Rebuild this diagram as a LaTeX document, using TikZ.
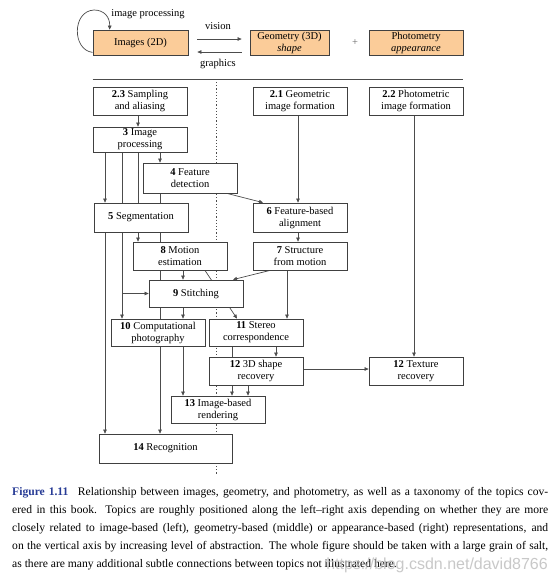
\documentclass[tikz,border=0pt]{standalone}
\usepackage{fontspec}
\setmainfont{Liberation Serif}
\newfontfamily\wmfont{Liberation Sans}
\usetikzlibrary{arrows.meta,calc}
\definecolor{peach}{RGB}{251,204,153}
\definecolor{figblue}{RGB}{40,60,150}
\pgfdeclarelayer{background}
\pgfsetlayers{background,main}
\begin{document}
\begin{tikzpicture}[x=1pt,y=-1pt,
  box/.style={draw=black!75, line width=0.8pt, fill=white, inner sep=0pt, align=center,
    font=\fontsize{10.5}{12}\selectfont, minimum width=94pt, minimum height=28pt},
  cbox/.style={box, fill=peach},
  arr/.style={draw=black!70, line width=0.7pt, -{Triangle[length=4pt,width=3.6pt]}},
  ln/.style={draw=black!70, line width=0.7pt},
  lbl/.style={font=\fontsize{10.5}{12}\selectfont, inner sep=0pt}
]
\useasboundingbox (0,0) rectangle (554,582);
% top row
\node[cbox, minimum width=95pt, minimum height=25pt] (img) at (140.5,42.5) {Images (2D)};
\node[cbox, minimum width=79pt, minimum height=25pt] (geo) at (289.5,42.5) {Geometry (3D)\\\textit{shape}};
\node[cbox, minimum height=25pt] (pho) at (416,42.5) {Photometry\\\textit{appearance}};
\node[lbl, text=black!60] (plus) at (355,43) {+};
\node[lbl] (vis) at (218,26) {vision};
\node[lbl] (gra) at (218,64) {graphics};
\node[lbl] (ip) at (148,14) {image processing};
% boxes
\node[box] (b23) at (140,101) {\textbf{2.3} Sampling\\and aliasing};
\node[box] (b21) at (300,101) {\textbf{2.1} Geometric\\image formation};
\node[box] (b22) at (416,101) {\textbf{2.2} Photometric\\image formation};
\node[box, minimum height=25pt] (b3) at (140,139.5) {\textbf{3} Image\\processing};
\node[box, minimum height=30pt] (b4) at (190,178) {\textbf{4} Feature\\detection};
\node[box, minimum height=29pt] (b5) at (141,217.5) {\textbf{5} Segmentation};
\node[box, minimum height=29pt] (b6) at (300,217.5) {\textbf{6} Feature-based\\alignment};
\node[box] (b8) at (180,256) {\textbf{8} Motion\\estimation};
\node[box] (b7) at (300,256) {\textbf{7} Structure\\from motion};
\node[box, minimum height=27pt] (b9) at (196,293.5) {\textbf{9} Stitching};
\node[box, minimum height=27pt] (b10) at (158,332.5) {\textbf{10} Computational\\photography};
\node[box, minimum height=27pt] (b11) at (256,332.5) {\textbf{11} Stereo\\correspondence};
\node[box] (b12a) at (256,371) {\textbf{12} 3D shape\\recovery};
\node[box] (b12b) at (416,371) {\textbf{12} Texture\\recovery};
\node[box, minimum height=27pt] (b13) at (218,409.5) {\textbf{13} Image-based\\rendering};
\node[box, minimum width=133pt, minimum height=29pt] (b14) at (165.5,448.5) {\textbf{14} Recognition};
% columns
\coordinate (xA) at (105,0);
\coordinate (xB) at (122,0);
\coordinate (xC) at (138,0);
\coordinate (xD) at (160,0);
\coordinate (xE) at (183,0);
\coordinate (xF) at (205,0);
\coordinate (xG) at (237,0);
\coordinate (xH) at (270,0);
\coordinate (xI) at (233,0);
\coordinate (xJ) at (287,0);
\coordinate (xK) at (298,0);
\coordinate (xL) at (414,0);
\coordinate (xM) at (276,0);
\coordinate (xN) at (232,0);
\coordinate (xO) at (248,0);
\coordinate (xP) at (227,0);
\coordinate (xQ) at (263,0);
\coordinate (dtop) at (216,82);
\coordinate (dbot) at (216,474);
\begin{pgfonlayer}{background}
\fill[white] (0,0) rectangle (554,582);
\draw[black!70, line width=0.7pt, dash pattern=on 1.2pt off 2pt] (dtop) -- (dbot);
% top arrows
\draw[arr, shorten <=9pt, shorten >=8pt] ([yshift=3.5pt]img.east) -- ([yshift=3.5pt]geo.west);
\draw[arr, shorten <=8pt, shorten >=9pt] ([yshift=-9.5pt]geo.west) -- ([yshift=-9.5pt]img.east);
\draw[arr] ([yshift=3pt]img.south west) .. controls (72,50) and (72,11) .. (94,10)
  .. controls (104,10) and (110,17) .. ([xshift=17pt]img.north west);
\draw[black!70, line width=0.9pt] (img.west |- 0,79) -- (pho.east |- 0,79);
% connectors
\draw[arr] (b23.south -| xC) -- (b3.north -| xC);
\draw[arr] (b3.south -| xA) -- (b5.north -| xA);
\draw[arr] (b5.south -| xA) -- (b14.north -| xA);
\draw[arr] (b3.south -| xB) -- (b10.north -| xB);
\draw[arr] (b3.south -| xB) |- (b9.west);
\draw[arr] (b3.south -| xC) -- (b8.north -| xC);
\draw[arr] (b3.south -| xD) -- (b4.north -| xD);
\draw[arr] (b4.south -| xD) -- (b14.north -| xD);
\draw[arr] (b8.south -| xE) -- (b9.north -| xE);
\draw[arr] (b9.south -| xE) -- (b10.north -| xE);
\draw[arr] (b10.south -| xE) -- (b13.north -| xE);
\draw[arr] (b8.south -| xF) -- (b11.north -| xG);
\draw[arr] (b4.south -| xP) -- (b6.north -| xQ);
\draw[arr] (b21.south -| xK) -- (b6.north -| xK);
\draw[arr] (b6.south -| xK) -- (b7.north -| xK);
\draw[arr] (b7.south -| xH) -- (b9.north -| xI);
\draw[arr] (b7.south -| xJ) -- (b11.north -| xJ);
\draw[arr] (b22.south -| xL) -- (b12b.north -| xL);
\draw[arr] ([yshift=2pt]b12a.east) -- ([yshift=2pt]b12b.west);
\draw[arr] (b11.south -| xM) -- (b12a.north -| xM);
\draw[arr] (b11.south -| xN) -- (b13.north -| xN);
\draw[arr] (b12a.south -| xO) -- (b13.north -| xO);
\end{pgfonlayer}
% caption
\node[anchor=north west, text width=536pt, align=justify, inner sep=0pt,
  font=\fontsize{11.6}{18}\selectfont] (cap) at (12,487)
{\textcolor{figblue}{\textbf{Figure 1.11}}\hspace{9.5pt}Relationship between images, geometry, and photometry, as well as a taxonomy of the topics cov-\linebreak
ered in this book. Topics are roughly positioned along the left–right axis depending on whether they are more\linebreak
closely related to image-based (left), geometry-based (middle) or appearance-based (right) representations, and\linebreak
on the vertical axis by increasing level of abstraction. The whole figure should be taken with a large grain of salt,\linebreak
as there are many additional subtle connections between topics not illustrated here.};
\node[anchor=east, inner sep=0pt, font=\wmfont\fontsize{16}{16}\selectfont, text=black!25, opacity=0.85] (wm) at (548,565) {https://blog.csdn.net/david8766};
\end{tikzpicture}
\end{document}
